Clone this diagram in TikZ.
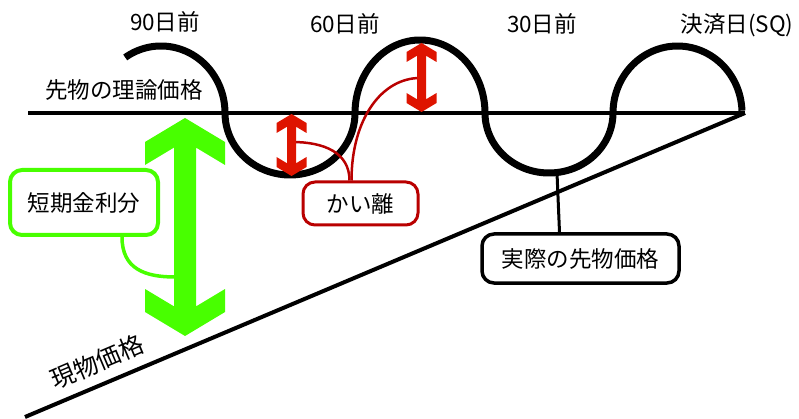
\documentclass[tikz,border=0pt]{standalone}
\usepackage{fontspec}
\setmainfont{Noto Sans CJK JP}
\usetikzlibrary{calc}
\definecolor{bgreen}{RGB}{72,255,0}
\definecolor{bred}{RGB}{222,20,0}
\definecolor{dred}{RGB}{185,0,0}
\newcommand{\dbarrow}[8]{% colour, cx, top, bottom, head half width, shaft half width, d1, d2
  \pgfmathsetmacro{\dbnotch}{#7*(#5-#6)/#5}
  \fill[#1] (#2,#3) -- ({#2+#5},{#3+#7}) -- ({#2+#5},{#3+#7+#8}) -- ({#2+#6},{#3+#7+#8-\dbnotch})
    -- ({#2+#6},{#4-#7-#8+\dbnotch}) -- ({#2+#5},{#4-#7-#8}) -- ({#2+#5},{#4-#7}) -- (#2,#4)
    -- ({#2-#5},{#4-#7}) -- ({#2-#5},{#4-#7-#8}) -- ({#2-#6},{#4-#7-#8+\dbnotch})
    -- ({#2-#6},{#3+#7+#8-\dbnotch}) -- ({#2-#5},{#3+#7+#8}) -- ({#2-#5},{#3+#7}) -- cycle;
}
\tikzset{
  lbl/.style={font=\fontsize{22.5}{26}\selectfont, inner sep=0pt, text=black},
  wave/.style={line width=7pt, line join=round},
  gbox/.style={draw=bgreen, line width=4pt, fill=white, rounded corners=12pt, font=\fontsize{22.5}{26}\selectfont},
  rbox/.style={draw=dred, line width=3pt, fill=white, rounded corners=12pt, font=\fontsize{22.5}{26}\selectfont},
  kbox/.style={draw=black, line width=3.5pt, fill=white, rounded corners=12pt, font=\fontsize{22.5}{26}\selectfont},
  gline/.style={draw=bgreen, line width=3.5pt},
  rline/.style={draw=dred, line width=2.5pt},
  kline/.style={draw=black, line width=3pt},
}
\begin{document}
\begin{tikzpicture}[x=1pt,y=-1pt]
\useasboundingbox (0,0) rectangle (799,419);
% reference coordinates
\coordinate (L0) at (28,113);
\coordinate (SQ) at (745,113);
\coordinate (S0) at (25,417);
\coordinate (tr2) at (557,173);
\coordinate (gA) at (175,277);
\coordinate (r1) at (292,142);
\coordinate (r2) at (420,78);
% theoretical price line and spot price line
\draw[line width=3.3pt] (L0) -- (SQ);
\draw[line width=4pt] (SQ) -- (S0);
% actual futures price wave
\draw[wave]
  plot[domain=124:0,samples=60] ({161+64*cos(\x)},{113-67*sin(\x)})
  -- plot[domain=180:0,samples=60] ({290+65*cos(\x)},{113+62*sin(\x)})
  -- plot[domain=180:0,samples=60] ({420+65*cos(\x)},{113-73*sin(\x)})
  -- plot[domain=180:0,samples=60] ({549+64*cos(\x)},{113+60*sin(\x)})
  -- plot[domain=180:2,samples=60] ({677.5+64.5*cos(\x)},{113-67*sin(\x)});
% green double arrow
\dbarrow{bgreen}{185}{118}{336}{40}{11}{24}{23}
% labels
\node[lbl] (d90) at (165,22) {90日前};
\node[lbl] (d60) at (345,24) {60日前};
\node[lbl] (d30) at (542,24) {30日前};
\node[lbl] (dsq) at (737,25) {決済日(SQ)};
\node[lbl] (riron) at (124,90) {先物の理論価格};
\node[lbl, font=\fontsize{24.5}{28}\selectfont, rotate=23] (genbutsu) at (97,362) {現物価格};
% boxes
\node[gbox, minimum width=148pt, minimum height=65pt] (kinri) at (84,202.5) {短期金利分};
\node[rbox, minimum width=115pt, minimum height=43pt] (kairi) at (360.5,203.5) {かい離};
\node[kbox, minimum width=197pt, minimum height=49pt] (jissai) at (580.5,258.5) {実際の先物価格};
% connectors
\draw[gline] ([xshift=38pt]kinri.south) .. controls +(0,32) and +(-30,0) .. (gA);
\draw[kline] ([xshift=-21pt]jissai.north) -- (tr2);
\draw[rline] ([xshift=-11pt]kairi.north) .. controls +(0,-28) and +(32,0) .. (r1);
\draw[rline] ([xshift=-9pt]kairi.north) .. controls +(0,-62) and +(-38,0) .. (r2);
% red double arrows
\dbarrow{bred}{291.5}{114}{176}{15}{4.5}{9}{10}
\dbarrow{bred}{421.5}{43}{112}{15}{4.5}{9}{10}
\end{tikzpicture}
\end{document}
